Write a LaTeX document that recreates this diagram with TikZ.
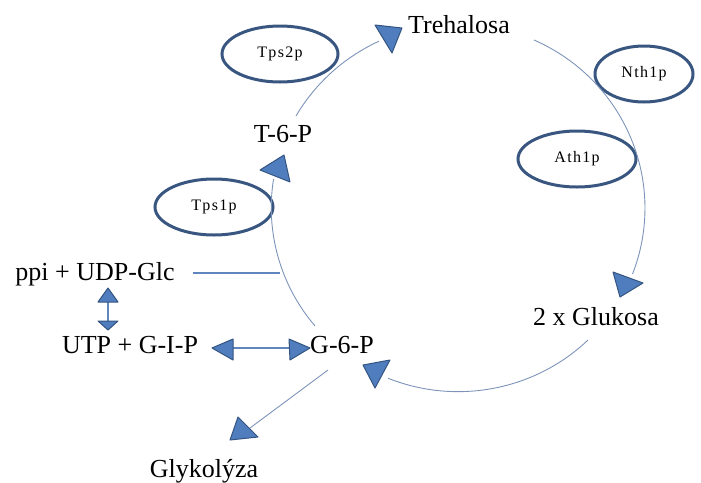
\documentclass[tikz,border=0pt]{standalone}
\usepackage{fontspec}
\setmainfont{Liberation Serif}
\newfontfamily\enzfont[LetterSpace=8]{Liberation Serif}
\usetikzlibrary{shapes.geometric}
\definecolor{enzc}{RGB}{56,86,128}
\definecolor{trifill}{RGB}{79,125,189}
\definecolor{triedge}{RGB}{52,85,130}
\definecolor{arcc}{RGB}{125,148,185}
\definecolor{linec}{RGB}{95,135,190}
\begin{document}
\begin{tikzpicture}[x=1pt,y=-1pt,
  lbl/.style={font=\fontsize{26}{30}\selectfont, inner sep=0pt, anchor=base},
  enz/.style={ellipse, draw=enzc, line width=3pt, inner sep=0pt,
    minimum width=116pt, minimum height=56pt,
    font=\enzfont\fontsize{16}{18}\selectfont},
  tri/.style={fill=trifill, draw=triedge, line width=1pt, line join=round},
  arcline/.style={draw=arcc, line width=0.9pt},
  conn/.style={draw=linec, line width=1.1pt}]
\useasboundingbox (0,0) rectangle (701,482);

% text nodes
\node[lbl] (treh) at (459,33) {Trehalosa};
\node[lbl] (t6p) at (283,142) {T-6-P};
\node[lbl] (ppi) at (95,280) {ppi + UDP-Glc};
\node[lbl] (utp) at (130,353) {UTP + G-I-P};
\node[lbl] (g6p) at (342,353) {G-6-P};
\node[lbl] (glyk) at (204,477) {Glykolýza};
\node[lbl] (gluk) at (596,325) {2 x Glukosa};

% enzymes
\node[enz] (tps2) at (280,54) {Tps2p};
\node[enz, minimum width=98pt] (nth) at (644,74) {Nth1p};
\node[enz, minimum width=118pt] (ath) at (577,159) {Ath1p};
\node[enz, minimum width=118pt] (tps1) at (214,207) {Tps1p};

% arc endpoints
\coordinate (a1) at (534,40);
\coordinate (a2) at (588,340);
\coordinate (a3) at (315,326);
\coordinate (a4) at (296,116);

\draw[arcline] (a1) arc[x radius=187, y radius=184, start angle=-66, end angle=21];
\draw[arcline] (a2) arc[x radius=187, y radius=184, start angle=46, end angle=112];
\draw[arcline] (a3) arc[x radius=187, y radius=184, start angle=140, end angle=189];
\draw[arcline] (a4) arc[x radius=187, y radius=184, start angle=210, end angle=245];

% straight connectors
\coordinate (ppiE) at (193,273);
\coordinate (ppiA) at (280,273);
\draw[conn] (ppiE) -- (ppiA);
\coordinate (v1) at (108,300);
\coordinate (v2) at (108,324);
\draw[conn] (v1) -- (v2);
\coordinate (h1) at (231,348);
\coordinate (h2) at (290,348);
\draw[conn] (h1) -- (h2);
\coordinate (gs) at (328,370);
\coordinate (ge) at (250,428);
\draw[arcline] (gs) -- (ge);

% arrowheads
\draw[tri] (375,25) -- (402,28) -- (392,53) -- cycle;
\draw[tri] (260,170) -- (284,155) -- (290,182) -- cycle;
\draw[tri] (613,272) -- (643,283) -- (620,297) -- cycle;
\draw[tri] (363,365) -- (390,360) -- (375,388) -- cycle;
\draw[tri] (212,348) -- (233,339) -- (233,360) -- cycle;
\draw[tri] (310,348) -- (289,339) -- (290,360) -- cycle;
\draw[tri] (108,288) -- (98,302) -- (118,302) -- cycle;
\draw[tri] (98,321) -- (118,321) -- (108,330) -- cycle;
\draw[tri] (238,417) -- (230,440) -- (258,437) -- cycle;
\end{tikzpicture}
\end{document}
